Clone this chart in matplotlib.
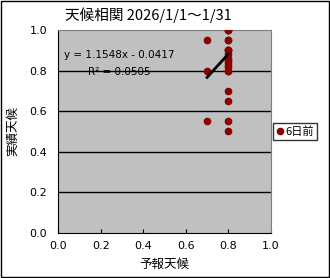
import matplotlib
matplotlib.use("Agg")
import numpy as np
from matplotlib import pyplot as plt

plt.rcParams['font.family'] = ['Noto Sans CJK JP', 'DejaVu Sans']

# forecast (x) and actual (y) values, 6 days before
forecast = [0.7, 0.7, 0.7,
            0.8, 0.8, 0.8, 0.8, 0.8, 0.8, 0.8, 0.8, 0.8, 0.8, 0.8, 0.8,
            0.8, 0.8, 0.8, 0.8, 0.8, 0.8, 0.8, 0.8]
actual = [0.95, 0.8, 0.55,
          1.0, 1.0, 1.0, 0.95, 0.95, 0.9, 0.9, 0.9, 0.88, 0.86, 0.85, 0.84,
          0.83, 0.82, 0.8, 0.8, 0.7, 0.65, 0.55, 0.5]
slope = 1.1548
intercept = -0.0417
r2 = 0.0505
ticks = [0.0, 0.2, 0.4, 0.6, 0.8, 1.0]

fig = plt.figure(figsize=(3.3, 2.78), dpi=100)
fig.patch.set_facecolor('white')
fig.patches.append(plt.Rectangle((0.002, 0.002), 0.995, 0.994, transform=fig.transFigure,
                                 fill=False, edgecolor='black', lw=1))
ax = fig.add_axes([0.176, 0.162, 0.645, 0.730])
ax.set_facecolor('#c0c0c0')

for t in ticks[1:-1]:
    ax.axhline(t, color='black', lw=1, zorder=1)

ax.plot(forecast, actual, 'o', color='#8b0000', ms=4.5, mec='#8b0000', zorder=3, label='6日前')

xs = np.array([min(forecast), max(forecast)])
ax.plot(xs, slope * xs + intercept, color='black', lw=2, zorder=4)

ax.text(0.03, 0.86, 'y = %.4fx - %.4f' % (slope, -intercept), transform=ax.transAxes,
        fontsize=7.5, family='DejaVu Sans')
ax.text(0.14, 0.78, 'R² = %.4f' % r2, transform=ax.transAxes, fontsize=7.5, family='DejaVu Sans')

ax.set_xlim(0, 1)
ax.set_ylim(0, 1)
ax.set_xticks(ticks)
ax.set_yticks(ticks)
ax.set_xticklabels(['%.1f' % t for t in ticks], fontsize=8, family='DejaVu Sans')
ax.set_yticklabels(['%.1f' % t for t in ticks], fontsize=8, family='DejaVu Sans')
ax.tick_params(axis='x', direction='in', length=3, pad=6)
ax.tick_params(axis='y', length=0, pad=8)
for s in ['top', 'right']:
    ax.spines[s].set_color('#808080')
for s in ['left', 'bottom']:
    ax.spines[s].set_color('black')

ax.set_xlabel('予報天候', fontsize=9, labelpad=5)
ax.set_ylabel('実績天候', fontsize=9, labelpad=7)
fig.text(0.45, 0.928, '天候相関 2026/1/1～1/31', ha='center', fontsize=10.5)

leg = ax.legend(loc='center left', bbox_to_anchor=(1.01, 0.5), fontsize=8, frameon=True,
                fancybox=False, edgecolor='black', handlelength=0.6, handletextpad=0.2,
                borderpad=0.3, borderaxespad=0, markerscale=1.0)
leg.get_frame().set_linewidth(1)

fig.savefig('out.png', dpi=100)
